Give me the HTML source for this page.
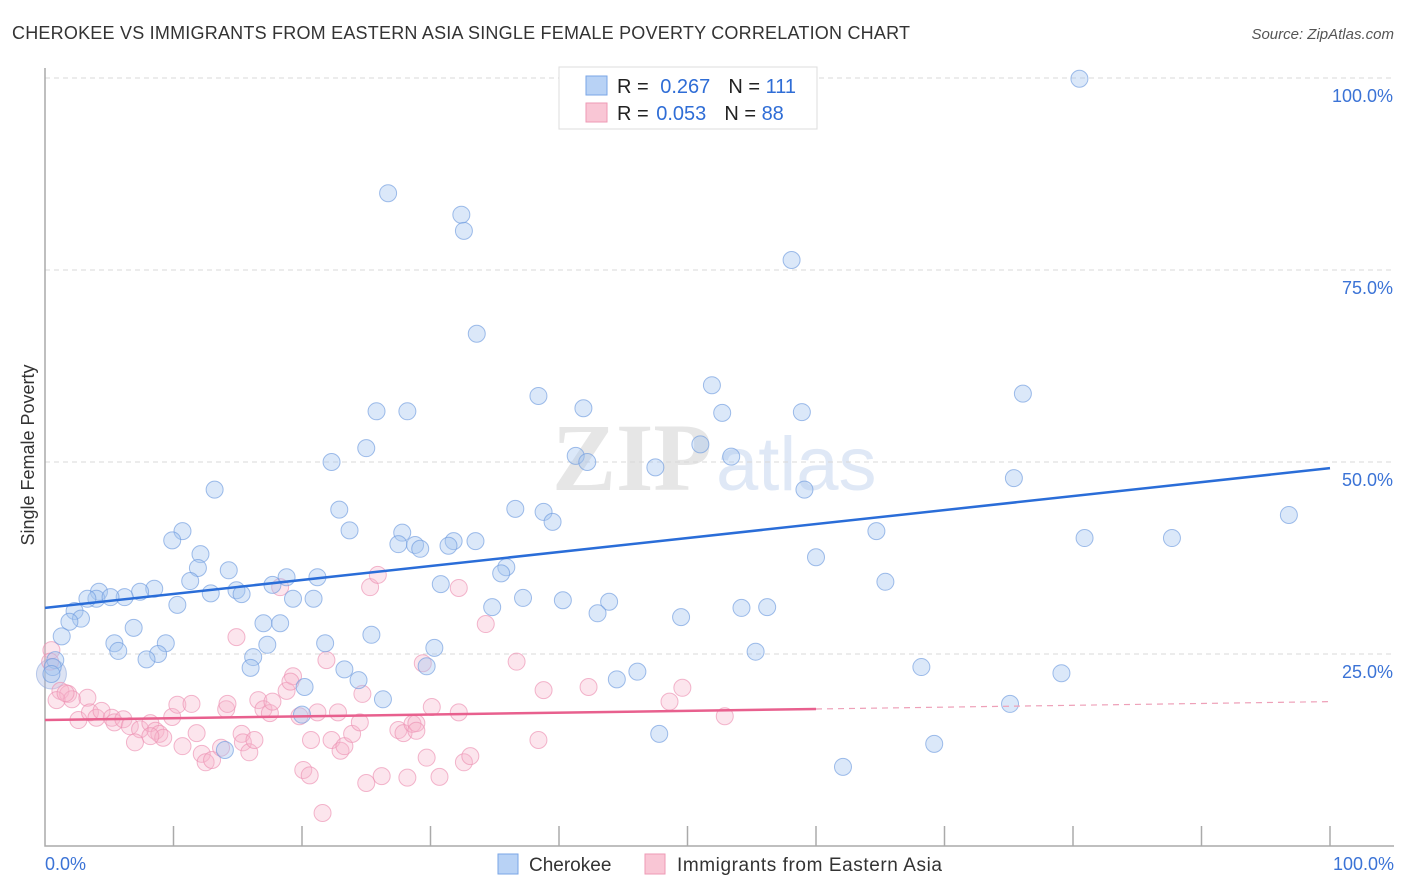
<!DOCTYPE html>
<html><head><meta charset="utf-8"><style>
body{margin:0;background:#fff;font-family:"Liberation Sans",sans-serif;}
svg{display:block}
</style></head><body>
<svg id="chart" width="1406" height="892" xmlns="http://www.w3.org/2000/svg">
<text x="12" y="39" font-size="18" fill="#333" textLength="898">CHEROKEE VS IMMIGRANTS FROM EASTERN ASIA SINGLE FEMALE POVERTY CORRELATION CHART</text>
<text x="1394" y="39" font-size="15" fill="#555" font-style="italic" text-anchor="end">Source: ZipAtlas.com</text>
<text x="712" y="490" font-size="96" fill="#e6e6e6" text-anchor="end" font-family="Liberation Serif,serif" font-weight="bold">ZIP</text>
<text x="716" y="490" font-size="76" fill="#dfe8f6">atlas</text>
<g id="grid"></g>
<g id="axes"></g>
<g id="pts"></g>
<g id="trend"></g>
<text transform="translate(34,455) rotate(-90)" font-size="18" fill="#333" text-anchor="middle">Single Female Poverty</text>
<text x="45" y="870" font-size="18" fill="#3b73d6">0.0%</text>
<text x="1394" y="870" font-size="18" fill="#3b73d6" text-anchor="end">100.0%</text>
<g>
<rect x="559" y="67" width="258" height="62" fill="#fff" stroke="#ddd"/>
<rect x="586" y="76" width="21" height="19" fill="#b8d2f5" stroke="#7aa6e6"/>
<rect x="586" y="103" width="21" height="19" fill="#f9c6d5" stroke="#ee9ab5"/>
<text x="617" y="93" font-size="20" fill="#222">R = <tspan fill="#2f6dd6" dx="6">0.267</tspan><tspan dx="18">N = </tspan><tspan fill="#2f6dd6">111</tspan></text>
<text x="617" y="120" font-size="20" fill="#222">R = <tspan fill="#2f6dd6" dx="2">0.053</tspan><tspan dx="18">N = </tspan><tspan fill="#2f6dd6">88</tspan></text>
</g>
<g>
<rect x="498" y="854" width="20" height="20" fill="#b8d2f5" stroke="#7aa6e6"/>
<text x="529" y="871" font-size="19" fill="#333">Cherokee</text>
<rect x="645" y="854" width="20" height="20" fill="#f9c6d5" stroke="#ee9ab5"/>
<text x="677" y="871" font-size="19" fill="#333" textLength="265">Immigrants from Eastern Asia</text>
</g>
</svg>
<script>
const yTicks=[25,50,75,100];
const yTickLabels=["25.0%","50.0%","75.0%","100.0%"];
const xTicks=[10,20,30,40,50,60,70,80,90,100];
const blueX=[80.5,26.7,32.4,32.6,58.1,33.6,51.9,76.1,38.4,25.8,28.2,41.9,52.7,58.9,25.0,51.0,41.3,42.2,22.3,53.4,47.5,75.4,13.2,59.1,22.9,36.6,38.8,39.5,96.8,10.7,23.7,64.7,80.9,87.7,9.9,27.8,27.5,28.8,29.2,31.8,31.4,33.5,12.1,60.0,11.9,14.3,35.9,35.5,11.3,18.8,21.2,17.7,30.8,65.4,4.2,4.0,3.3,8.5,7.4,6.2,5.1,14.9,15.3,12.9,19.3,20.9,37.2,40.3,43.9,2.3,2.8,1.9,10.3,34.8,43.0,54.2,56.2,49.5,17.0,18.3,6.9,1.3,25.4,5.4,9.4,21.8,30.3,17.3,5.7,8.8,7.9,16.2,55.3,0.8,0.6,16.0,23.3,29.7,46.1,44.5,68.2,79.1,24.4,20.2,26.3,75.1,20.0,47.8,14.0,69.2,62.1,0.5];
const blueY=[99.9,85.0,82.2,80.1,76.3,66.7,60.0,58.9,58.6,56.6,56.6,57.0,56.4,56.5,51.8,52.3,50.8,50.0,50.0,50.7,49.3,47.9,46.4,46.4,43.8,43.9,43.5,42.2,43.1,41.0,41.1,41.0,40.1,40.1,39.8,40.8,39.3,39.2,38.7,39.7,39.1,39.7,38.0,37.6,36.2,35.9,36.3,35.5,34.5,35.0,35.0,34.0,34.1,34.4,33.1,32.2,32.2,33.5,33.1,32.4,32.4,33.3,32.8,32.9,32.2,32.2,32.3,32.0,31.8,30.6,29.6,29.2,31.4,31.1,30.3,31.0,31.1,29.8,29.0,29.0,28.4,27.3,27.5,26.4,26.4,26.4,25.8,26.2,25.4,25.0,24.3,24.6,25.3,24.2,23.3,23.2,23.0,23.4,22.7,21.7,23.3,22.5,21.6,20.7,19.1,18.5,17.1,14.6,12.5,13.3,10.3,22.4];
const pinkX=[0.5,0.4,1.2,1.8,2.1,3.3,2.6,3.5,4.0,4.4,5.2,5.4,6.1,6.6,7.4,8.2,8.6,8.9,9.2,9.9,10.3,10.7,11.4,11.8,12.2,12.5,13.0,13.7,14.1,14.2,14.9,15.3,15.4,15.9,16.3,16.6,17.0,17.5,17.7,18.8,19.3,19.1,19.8,20.1,20.6,20.7,21.2,21.6,21.9,22.3,22.8,23.0,23.3,23.9,24.7,25.0,25.3,25.9,26.2,27.5,27.9,28.2,28.6,28.9,29.4,29.7,30.1,30.7,32.2,32.2,32.6,33.1,34.3,36.7,38.4,38.8,42.3,48.6,49.6,52.9,18.3,24.5,28.9,8.2,7.0,0.9,1.6];
const pinkY=[25.5,24.0,20.2,19.8,19.1,19.3,16.4,17.4,16.7,17.6,16.7,16.1,16.5,15.6,15.2,16.0,15.0,14.6,14.1,16.8,18.4,13.0,18.5,14.7,12.0,10.9,11.2,12.8,17.8,18.5,27.2,14.6,13.5,12.2,13.8,19.0,17.8,17.3,18.8,20.2,22.1,21.4,16.9,9.9,9.2,13.8,17.4,4.3,24.2,13.8,17.4,12.4,13.0,14.6,19.8,8.2,33.7,35.3,9.1,15.1,14.7,8.9,15.9,16.0,23.8,11.5,18.1,9.0,17.4,33.6,10.9,11.7,28.9,24.0,13.8,20.3,20.7,18.8,20.6,16.9,33.7,16.1,15.0,14.3,13.5,19.0,19.9];
const blueTrend=[31.0,49.2];
const pinkTrend=[16.4,18.8];
const pinkSolidEnd=60;

const X0=45,X1=1330,Y0=846,Y1=78;
const sx=v=>X0+(X1-X0)*v/100;
const sy=v=>Y0-(Y0-Y1)*v/100;
const NS="http://www.w3.org/2000/svg";
function mk(tag,attrs,parent){const e=document.createElementNS(NS,tag);for(const k in attrs)e.setAttribute(k,attrs[k]);parent.appendChild(e);return e;}
const grid=document.getElementById('grid'),axes=document.getElementById('axes'),pts=document.getElementById('pts'),trend=document.getElementById('trend');
yTicks.forEach((t,i)=>{
  const l=mk('line',{x1:X0,x2:1394,y1:sy(t),y2:sy(t),stroke:'#d8d8d8','stroke-dasharray':'5,4'},grid);
  
  
  const tx=mk('text',{x:1393,y:sy(t)+24,'font-size':18,fill:'#3b73d6','text-anchor':'end'},grid);
  tx.textContent=yTickLabels[i];
  
  
});
const ax=mk('path',{d:`M${X0} 68V${Y0}H1394`,fill:'none',stroke:'#aaa','stroke-width':1.5},axes);


xTicks.forEach(t=>{
  const l=mk('line',{x1:sx(t),x2:sx(t),y1:826,y2:Y0,stroke:'#aaa','stroke-width':1.5},axes);
  
  
});
function dots(xs,ys,fill,stroke,name){
  xs.forEach((x,i)=>{
    const c=mk('circle',{cx:sx(x),cy:sy(ys[i]),r:8.5,fill:fill,stroke:stroke,'stroke-width':1},pts);
    
    
  });
}
const big1=mk('circle',{cx:sx(0.5),cy:sy(22.4),r:15,fill:'rgba(170,185,225,0.4)',stroke:'rgba(130,160,220,0.5)'},pts);


dots(pinkX,pinkY,'rgba(246,180,202,0.35)','rgba(236,145,178,0.65)','immigrants-point');
dots(blueX,blueY,'rgba(165,198,240,0.4)','rgba(110,155,222,0.65)','cherokee-point');
const bl=mk('line',{x1:sx(0),y1:sy(blueTrend[0]),x2:sx(100),y2:sy(blueTrend[1]),stroke:'#2a6dd8','stroke-width':2.5},trend);


const pm=pinkTrend[0]+(pinkTrend[1]-pinkTrend[0])*pinkSolidEnd/100;
const pl=mk('line',{x1:sx(0),y1:sy(pinkTrend[0]),x2:sx(pinkSolidEnd),y2:sy(pm),stroke:'#e8608e','stroke-width':2.5},trend);


const pd=mk('line',{x1:sx(pinkSolidEnd),y1:sy(pm),x2:sx(100),y2:sy(pinkTrend[1]),stroke:'#eea0b8','stroke-width':1.2,'stroke-dasharray':'6,5'},trend);


</script>
</body></html>
